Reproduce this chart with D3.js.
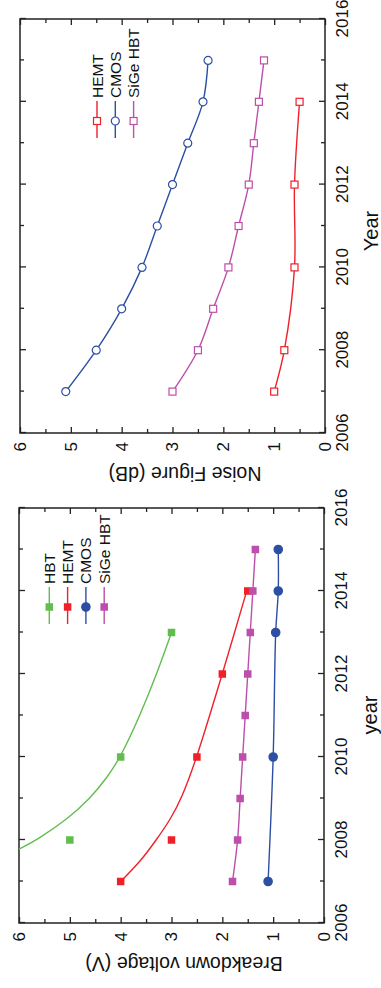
<!DOCTYPE html>
<html>
<head>
<meta charset="utf-8">
<script src="https://cdn.jsdelivr.net/npm/d3@7"></script>
<style>
  html, body { margin: 0; padding: 0; background: #fff; }
  svg { display: block; font-family: "Liberation Sans", Arial, sans-serif; }
</style>
</head>
<body>
<svg id="vis" width="381" height="988"></svg>
<script>
// ---- data: noise figure panel ----
const nfHemtYears = [2007, 2008, 2010, 2012, 2014];
const nfHemtValues = [1.0, 0.8, 0.6, 0.6, 0.5];
const nfCmosYears = [2007, 2008, 2009, 2010, 2011, 2012, 2013, 2014, 2015];
const nfCmosValues = [5.1, 4.5, 4.0, 3.6, 3.3, 3.0, 2.7, 2.4, 2.3];
const nfSigeYears = [2007, 2008, 2009, 2010, 2011, 2012, 2013, 2014, 2015];
const nfSigeValues = [3.0, 2.5, 2.2, 1.9, 1.7, 1.5, 1.4, 1.3, 1.2];

// ---- data: breakdown voltage panel ----
const bvHbtYears = [2008, 2010, 2013];
const bvHbtValues = [5.0, 4.0, 3.0];
// fitted trend lines
const bvHbtFitYears = [2007.78, 2008, 2008.5, 2009, 2009.5, 2010, 2011, 2012, 2013];
const bvHbtFitValues = [6.0, 5.65, 5.05, 4.6, 4.27, 4.0, 3.62, 3.29, 3.0];
const bvHemtYears = [2007, 2008, 2010, 2012, 2014];
const bvHemtValues = [4.0, 3.0, 2.5, 2.0, 1.5];
const bvHemtFitYears = [2007, 2007.5, 2008, 2008.5, 2009, 2010, 2011, 2012, 2013, 2014];
const bvHemtFitValues = [4.0, 3.6, 3.3, 3.02, 2.8, 2.5, 2.25, 2.0, 1.76, 1.52];
const bvCmosYears = [2007, 2010, 2013, 2014, 2015];
const bvCmosValues = [1.1, 1.0, 0.95, 0.9, 0.9];
const bvSigeYears = [2007, 2008, 2009, 2010, 2011, 2012, 2013, 2014, 2015];
const bvSigeValues = [1.8, 1.7, 1.65, 1.6, 1.55, 1.5, 1.45, 1.4, 1.35];

// ---- ticks ----
const yearTicks = [2006, 2008, 2010, 2012, 2014, 2016];
const yearMinorTicks = [2007, 2009, 2011, 2013, 2015];
const valueTicks = [0, 1, 2, 3, 4, 5, 6];
const valueMinorTicks = [0.5, 1.5, 2.5, 3.5, 4.5, 5.5];

const RED = "#f0202a", BLUE = "#2c4fa3", MAGENTA = "#bd4ea9", GREEN = "#62bd4f";

const zip = (xs, ys) => xs.map((x, i) => ({ year: x, value: ys[i] }));

const svg = d3.select("#vis");

// each panel is drawn as an ordinary chart, then turned a quarter turn counter-clockwise
function drawPanel(cfg) {
  const len = cfg.len, left = cfg.left, right = cfg.right;
  const g = svg.append("g")
    .attr("transform", `translate(0,${cfg.base}) rotate(-90)`);

  const x = d3.scaleLinear().domain([2006, 2016]).range([0, len]);
  const y = d3.scaleLinear().domain([0, 6]).range([right, left]);

  const axisStyle = (sel) => {
    sel.select(".domain").remove();
    sel.selectAll("line").attr("stroke", "#222").attr("stroke-width", 1.3);
    sel.selectAll("text").attr("fill", "#111").attr("font-size", 17)
      .attr("font-family", "Liberation Sans, Arial, sans-serif");
  };

  // year axis (bottom) + mirror (top)
  g.append("g").attr("transform", `translate(0,${right})`)
    .call(d3.axisBottom(x).tickValues(yearTicks).tickFormat(d3.format("d"))
      .tickSizeInner(-6).tickSizeOuter(0).tickPadding(11)).call(axisStyle);
  g.append("g").attr("transform", `translate(0,${right})`)
    .call(d3.axisBottom(x).tickValues(yearMinorTicks).tickFormat("")
      .tickSizeInner(-4).tickSizeOuter(0)).call(axisStyle);
  g.append("g").attr("transform", `translate(0,${left})`)
    .call(d3.axisTop(x).tickValues(yearTicks).tickFormat("")
      .tickSizeInner(-6).tickSizeOuter(0)).call(axisStyle);
  g.append("g").attr("transform", `translate(0,${left})`)
    .call(d3.axisTop(x).tickValues(yearMinorTicks).tickFormat("")
      .tickSizeInner(-4).tickSizeOuter(0)).call(axisStyle);

  // value axis (left) + mirror (right)
  g.append("g")
    .call(d3.axisLeft(y).tickValues(valueTicks).tickFormat(d3.format("d"))
      .tickSizeInner(-6).tickSizeOuter(0).tickPadding(9)).call(axisStyle);
  g.append("g")
    .call(d3.axisLeft(y).tickValues(valueMinorTicks).tickFormat("")
      .tickSizeInner(-4).tickSizeOuter(0)).call(axisStyle);
  g.append("g").attr("transform", `translate(${len},0)`)
    .call(d3.axisRight(y).tickValues(valueTicks).tickFormat("")
      .tickSizeInner(-6).tickSizeOuter(0)).call(axisStyle);
  g.append("g").attr("transform", `translate(${len},0)`)
    .call(d3.axisRight(y).tickValues(valueMinorTicks).tickFormat("")
      .tickSizeInner(-4).tickSizeOuter(0)).call(axisStyle);

  // frame
  g.append("rect")
    .attr("x", x(2006)).attr("y", y(6))
    .attr("width", x(2016) - x(2006)).attr("height", y(0) - y(6))
    .attr("fill", "none").attr("stroke", "#222").attr("stroke-width", 1.5);

  // titles
  g.append("text")
    .attr("x", cfg.xTitlePos).attr("y", right + 53)
    .attr("text-anchor", "middle").attr("font-size", 20).attr("fill", "#111")
    .text(cfg.xTitle);
  g.append("text")
    .attr("transform", `translate(-34,${cfg.yTitleMid}) rotate(-90)`)
    .attr("text-anchor", "middle").attr("font-size", 19.5).attr("fill", "#111")
    .text(cfg.yTitle);

  const clip = "clip-" + cfg.id;
  g.append("clipPath").attr("id", clip).append("rect")
    .attr("x", x(2006)).attr("y", y(6))
    .attr("width", x(2016) - x(2006)).attr("height", y(0) - y(6));

  const line = d3.line()
    .x(d => x(d.year)).y(d => y(d.value))
    .curve(d3.curveCatmullRom.alpha(0.5));
  const fit = d3.line()
    .x(d => x(d.year)).y(d => y(d.value))
    .curve(d3.curveBasis);

  const plot = g.append("g").attr("clip-path", `url(#${clip})`);

  cfg.series.forEach(s => {
    plot.append("path")
      .datum(s.curve || s.points)
      .attr("d", s.curve ? fit : line)
      .attr("fill", "none").attr("stroke", s.color).attr("stroke-width", 1.4);
  });

  const drawMarker = (sel, s) => {
    if (s.shape === "circle") {
      sel.append("circle").attr("r", s.filled ? 4.2 : 4)
        .attr("fill", s.filled ? s.color : "#fff")
        .attr("stroke", s.color).attr("stroke-width", 1.2);
    } else {
      const a = s.filled ? 7.5 : 7;
      sel.append("rect").attr("x", -a / 2).attr("y", -a / 2)
        .attr("width", a).attr("height", a)
        .attr("fill", s.filled ? s.color : "#fff")
        .attr("stroke", s.color).attr("stroke-width", s.filled ? 0 : 1.2);
    }
  };

  cfg.series.forEach(s => {
    plot.append("g").selectAll("g")
      .data(s.points)
      .join("g")
      .attr("transform", d => `translate(${x(d.year)},${y(d.value)})`)
      .each(function () { drawMarker(d3.select(this), s); });
  });

  // legend
  const lg = g.append("g").attr("transform", `translate(${cfg.legendX},0)`);
  cfg.series.forEach((s, i) => {
    const row = lg.append("g").attr("transform", `translate(0,${cfg.legendTop + i * 18.3})`);
    row.append("line").attr("x1", -17).attr("x2", 20)
      .attr("stroke", s.color).attr("stroke-width", 1.4);
    drawMarker(row.append("g"), s);
    row.append("text").attr("x", 23).attr("y", 5.5)
      .attr("font-size", 15.5).attr("fill", "#111").text(s.name);
  });
}

drawPanel({
  id: "nf", base: 433, len: 414, left: 20, right: 325,
  xTitle: "Year", xTitlePos: 202, yTitle: "Noise Figure (dB)", yTitleMid: 185,
  legendX: 312, legendTop: 97,
  series: [
    { name: "HEMT", color: RED, shape: "square", filled: false,
      points: zip(nfHemtYears, nfHemtValues) },
    { name: "CMOS", color: BLUE, shape: "circle", filled: false,
      points: zip(nfCmosYears, nfCmosValues) },
    { name: "SiGe HBT", color: MAGENTA, shape: "square", filled: false,
      points: zip(nfSigeYears, nfSigeValues) }
  ]
});

drawPanel({
  id: "bv", base: 923, len: 415, left: 19, right: 324,
  xTitle: "year", xTitlePos: 208, yTitle: "Breakdown voltage (V)", yTitleMid: 184,
  legendX: 316, legendTop: 49.3,
  series: [
    { name: "HBT", color: GREEN, shape: "square", filled: true,
      points: zip(bvHbtYears, bvHbtValues), curve: zip(bvHbtFitYears, bvHbtFitValues) },
    { name: "HEMT", color: RED, shape: "square", filled: true,
      points: zip(bvHemtYears, bvHemtValues), curve: zip(bvHemtFitYears, bvHemtFitValues) },
    { name: "CMOS", color: BLUE, shape: "circle", filled: true,
      points: zip(bvCmosYears, bvCmosValues) },
    { name: "SiGe HBT", color: MAGENTA, shape: "square", filled: true,
      points: zip(bvSigeYears, bvSigeValues) }
  ]
});
</script>
</body>
</html>
